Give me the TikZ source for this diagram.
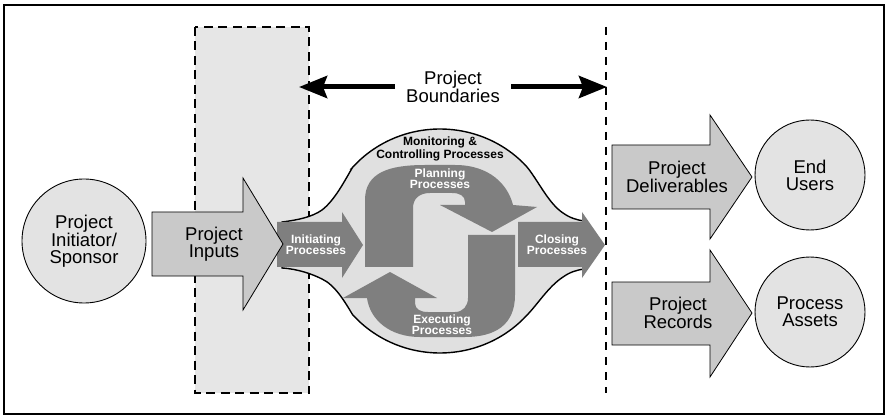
\documentclass[tikz,border=0pt]{standalone}
\usepackage{fontspec}
\setmainfont{Liberation Sans}
\usetikzlibrary{arrows.meta}
\definecolor{pgray}{HTML}{7F7F7F}
\definecolor{agray}{HTML}{C9C9C9}
\definecolor{cgray}{HTML}{E3E3E3}
\definecolor{rgray}{HTML}{E6E6E6}
\definecolor{bgray}{HTML}{E0E0E0}
\begin{document}
\begin{tikzpicture}[x=1pt,y=-1pt,
  lbl/.style={font=\fontsize{18.5}{17}\selectfont, align=center, inner sep=0pt},
  plbl/.style={font=\bfseries\fontsize{12}{11}\selectfont, align=center, text=white, inner sep=0pt},
  blbl/.style={font=\bfseries\fontsize{12}{11}\selectfont, align=center, inner sep=0pt},
  circ/.style={circle, draw=black, line width=0.9pt, fill=cgray, align=center, inner sep=0pt,
     font=\fontsize{18.5}{17}\selectfont},
  bigarrow/.style={draw=black, line width=0.8pt, fill=agray},
  procarrow/.style={fill=pgray},
  bnd/.style={line width=5pt, -{Stealth[length=28pt,width=22pt,inset=4pt]}},
  dashbox/.style={draw=black, line width=2pt, dash pattern=on 9pt off 5.5pt}
]
\useasboundingbox (0,0) rectangle (890,419);
\fill[white] (0,0) rectangle (890,419);
% frame
\draw[line width=2pt] (3.5,5) rectangle (884,413.5);
% project boundary box and line
\fill[rgray] (195,27) rectangle (309,393);
\draw[dashbox] (195,27) rectangle (309,393);
\draw[line width=1.6pt, dash pattern=on 8pt off 7pt] (606,27) -- (606,393);
% monitoring & controlling blob
\filldraw[fill=bgray, draw=black, line width=1.4pt]
  (282,222) .. controls (298,220) and (312,217) .. (322,210)
  .. controls (335,200) and (345,180) .. (352.5,167.5)
  -- plot[domain=139:42, samples=50] ({440+116*cos(\x)},{241-112*sin(\x)})
  .. controls (538,180) and (548,203) .. (563,213)
  .. controls (570,218) and (577,220) .. (584,221)
  -- (584,269)
  .. controls (577,270) and (570,272) .. (563,277)
  .. controls (548,287) and (538,304) .. ({440+116*cos(-42)},{241-112*sin(-42)})
  -- plot[domain=-42:-139, samples=50] ({440+116*cos(\x)},{241-112*sin(\x)})
  .. controls (345,302) and (335,285) .. (322,279)
  .. controls (312,274) and (298,269) .. (282,268) -- cycle;
% planning shape
\fill[procarrow] (365,267) -- (365,200) .. controls (365,172) and (390,165) .. (425,165)
  -- (455,165) .. controls (490,165) and (508,185) .. (513,205) -- (537,207) -- (492,232)
  -- (440,205) -- (465,205) -- (465,202) .. controls (465,196) and (460,193) .. (452,193)
  -- (430,193) .. controls (419,193) and (413,199) .. (413,208) -- (413,267) -- cycle;
% executing shape
\fill[procarrow] (468,235) -- (515,235) -- (515,295) .. controls (515,325) and (495,337) .. (465,337)
  -- (420,337) .. controls (390,337) and (370,320) .. (367,298) -- (343,298) -- (390,272)
  -- (437,298) -- (415,298) -- (415,303) .. controls (415,309) and (420,312) .. (428,312)
  -- (455,312) .. controls (463,312) and (468,306) .. (468,298) -- cycle;
% initiating and closing arrows
\fill[procarrow] (277,222) -- (342,222) -- (342,212) -- (363,245) -- (342,278) -- (342,267) -- (277,267) -- cycle;
\fill[procarrow] (518,222) -- (582,222) -- (582,212) -- (605,245) -- (582,278) -- (582,267) -- (518,267) -- cycle;
% big light arrows
\filldraw[bigarrow] (152,212) -- (243,212) -- (243,178) -- (283,244) -- (243,310) -- (243,276) -- (152,276) -- cycle;
\filldraw[bigarrow] (612,145) -- (710,145) -- (710,115) -- (752,177) -- (710,239) -- (710,209) -- (612,209) -- cycle;
\filldraw[bigarrow] (612,282) -- (710,282) -- (710,250) -- (752,313) -- (710,377) -- (710,345) -- (612,345) -- cycle;
% circles
\node[circ, minimum size=124pt] (sponsor) at (84,241) {Project\\Initiator/\\Sponsor};
\node[circ, minimum size=110pt] (endusers) at (810,175) {End\\Users};
\node[circ, minimum size=110pt] (assets) at (810,312) {Process\\Assets};
% labels
\node[lbl] (inputs) at (214,244) {Project\\Inputs};
\node[lbl] (deliv) at (677,177) {Project\\Deliverables};
\node[lbl] (records) at (678,313) {Project\\Records};
\node[plbl] (init) at (316,245) {Initiating\\Processes};
\node[plbl] (closing) at (557,245) {Closing\\Processes};
\node[plbl] (plan) at (440,179) {Planning\\Processes};
\node[plbl] (exec) at (442,325) {Executing\\Processes};
\node[blbl] (mc) at (440,149) {Monitoring \&\\Controlling Processes};
% project boundaries
\node[lbl, inner xsep=11pt] (pb) at (453,87) {Project\\Boundaries};
\coordinate (bl) at (299,87);
\coordinate (br) at (607,87);
\draw[bnd] (pb) -- (bl);
\draw[bnd] (pb) -- (br);
\end{tikzpicture}
\end{document}
